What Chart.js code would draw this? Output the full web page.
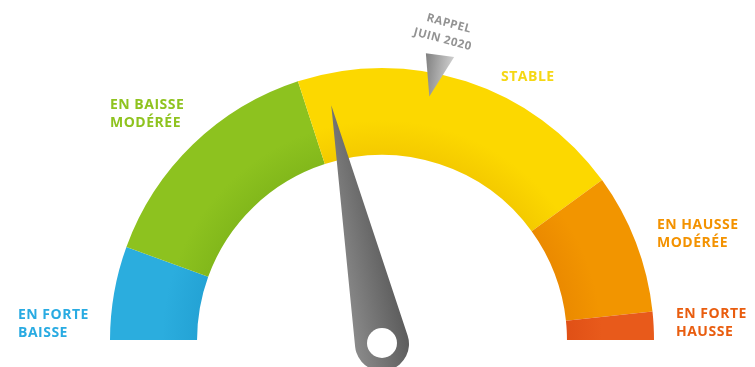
<!DOCTYPE html>
<html>
<head>
<meta charset="utf-8">
<script src="https://cdn.jsdelivr.net/npm/chart.js@4.4.1/dist/chart.umd.min.js"></script>
<style>
  html, body { margin: 0; padding: 0; background: #fff; }
  canvas { display: block; }
</style>
</head>
<body>
<canvas id="gauge" width="755" height="367"></canvas>
<script>
// zones of the gauge, spans in degrees of the half circle (total 180)
const zones = [['EN FORTE', 'BAISSE'], ['EN BAISSE', 'MODÉRÉE'], ['STABLE'], ['EN HAUSSE', 'MODÉRÉE'], ['EN FORTE', 'HAUSSE']];
const zoneSpans = [20, 52, 72, 30, 6];
const zoneColors = ['#2badde', '#8dc21f', '#fcd800', '#f29500', '#e85a1b'];
const zoneShades = ['#24a3d5', '#82b81b', '#f4ca00', '#eb8a00', '#e05016'];
const labelColors = ['#29abe2', '#8fc31f', '#f5d714', '#f39200', '#e95d0f'];
const needleValue = 78;   // current position
const rappelValue = 101;  // reminder mark
const rappelLines = ['RAPPEL', 'JUIN 2020'];

const ctx = document.getElementById('gauge').getContext('2d');

// where each zone label sits (left x, first baseline)
const labelPos = [[18, 319], [110, 109], [501, 81], [657, 229], [676, 318]];

function gaugeGeom(chart) {
    const arc = chart.getDatasetMeta(0).data[0];
    return { cx: arc.x, cy: arc.y, R: arc.outerRadius, r: arc.innerRadius };
}
function toAngle(v) {
    return Math.PI + v * Math.PI / 180;
}

const gaugeExtras = {
    id: 'gaugeExtras',
    afterDatasetsDraw(chart) {
        const c = chart.ctx;
        const { cx, cy, R } = gaugeGeom(chart);
        c.save();

        // zone labels
        c.font = 'bold 14px "Open Sans"';
        c.textBaseline = 'alphabetic';
        c.textAlign = 'left';
        if ('letterSpacing' in c) c.letterSpacing = '0.5px';
        chart.data.labels.forEach((lines, i) => {
            c.fillStyle = labelColors[i];
            lines.forEach((t, k) => c.fillText(t, labelPos[i][0], labelPos[i][1] + k * 17.5));
        });

        // reminder triangle
        const a = toAngle(rappelValue);
        const tip = [cx + 248 * Math.cos(a), cy + 248 * Math.sin(a)];
        const aL = toAngle(rappelValue - 2.3), aR = toAngle(rappelValue + 3.3);
        const bl = [cx + 290 * Math.cos(aL), cy + 290 * Math.sin(aL)];
        const br = [cx + 292 * Math.cos(aR), cy + 292 * Math.sin(aR)];
        const tg = c.createLinearGradient(bl[0], bl[1], br[0], br[1]);
        tg.addColorStop(0, '#808080');
        tg.addColorStop(1, '#cfcfcf');
        c.fillStyle = tg;
        c.beginPath();
        c.moveTo(bl[0], bl[1]);
        c.lineTo(br[0], br[1]);
        c.lineTo(tip[0], tip[1]);
        c.closePath();
        c.fill();

        // reminder text
        const at = toAngle(rappelValue + 0.5);
        c.translate(cx + 315 * Math.cos(at), cy + 315 * Math.sin(at));
        c.rotate(15 * Math.PI / 180);
        c.font = 'bold 11.5px "Open Sans"';
        c.textAlign = 'center';
        c.textBaseline = 'middle';
        c.fillStyle = '#939393';
        c.fillText(rappelLines[0], 2, -8.5);
        c.fillText(rappelLines[1], 0, 8.5);
        c.setTransform(1, 0, 0, 1, 0, 0);

        // needle
        const px = cx, py = cy + 4, hub = 27, len = 244;
        const na = toAngle(needleValue);
        const nx = px + len * Math.cos(na), ny = py + len * Math.sin(na);
        const al = Math.acos(hub / len);
        const perp = na - Math.PI / 2;
        const ng = c.createLinearGradient(px + hub * Math.cos(perp), py + hub * Math.sin(perp),
                                          px - hub * Math.cos(perp), py - hub * Math.sin(perp));
        ng.addColorStop(0, '#8a8a8a');
        ng.addColorStop(1, '#5c5c5c');
        c.fillStyle = ng;
        c.beginPath();
        c.moveTo(nx, ny);
        c.lineTo(px + hub * Math.cos(na + al), py + hub * Math.sin(na + al));
        c.arc(px, py, hub, na + al, na - al + 2 * Math.PI, false);
        c.closePath();
        c.fill();
        c.fillStyle = '#ffffff';
        c.beginPath();
        c.arc(px, py - 1, 15, 0, 2 * Math.PI);
        c.fill();

        c.restore();
    }
};

const myChart = new Chart(ctx, {
    type: 'doughnut',
    data: {
        labels: zones,
        datasets: [{
            data: zoneSpans,
            backgroundColor(context) {
                const { chart, dataIndex } = context;
                const area = chart.chartArea;
                if (!area) return zoneColors[dataIndex];
                const cx = (area.left + area.right) / 2;
                const cy = area.bottom;
                const R = (area.right - area.left) / 2;
                const g = chart.ctx.createRadialGradient(cx, cy, R * 0.68, cx, cy, R);
                g.addColorStop(0, zoneShades[dataIndex]);
                g.addColorStop(0.4, zoneColors[dataIndex]);
                g.addColorStop(1, zoneColors[dataIndex]);
                return g;
            },
            borderWidth: 0,
            hoverOffset: 0
        }]
    },
    options: {
        responsive: false,
        animation: false,
        rotation: -90,
        circumference: 180,
        cutout: '68%',
        layout: {
            padding: { left: 110, right: 101, top: 68, bottom: 27 }
        },
        plugins: {
            legend: { display: false },
            tooltip: { enabled: false }
        }
    },
    plugins: [gaugeExtras]
});
</script>
</body>
</html>
